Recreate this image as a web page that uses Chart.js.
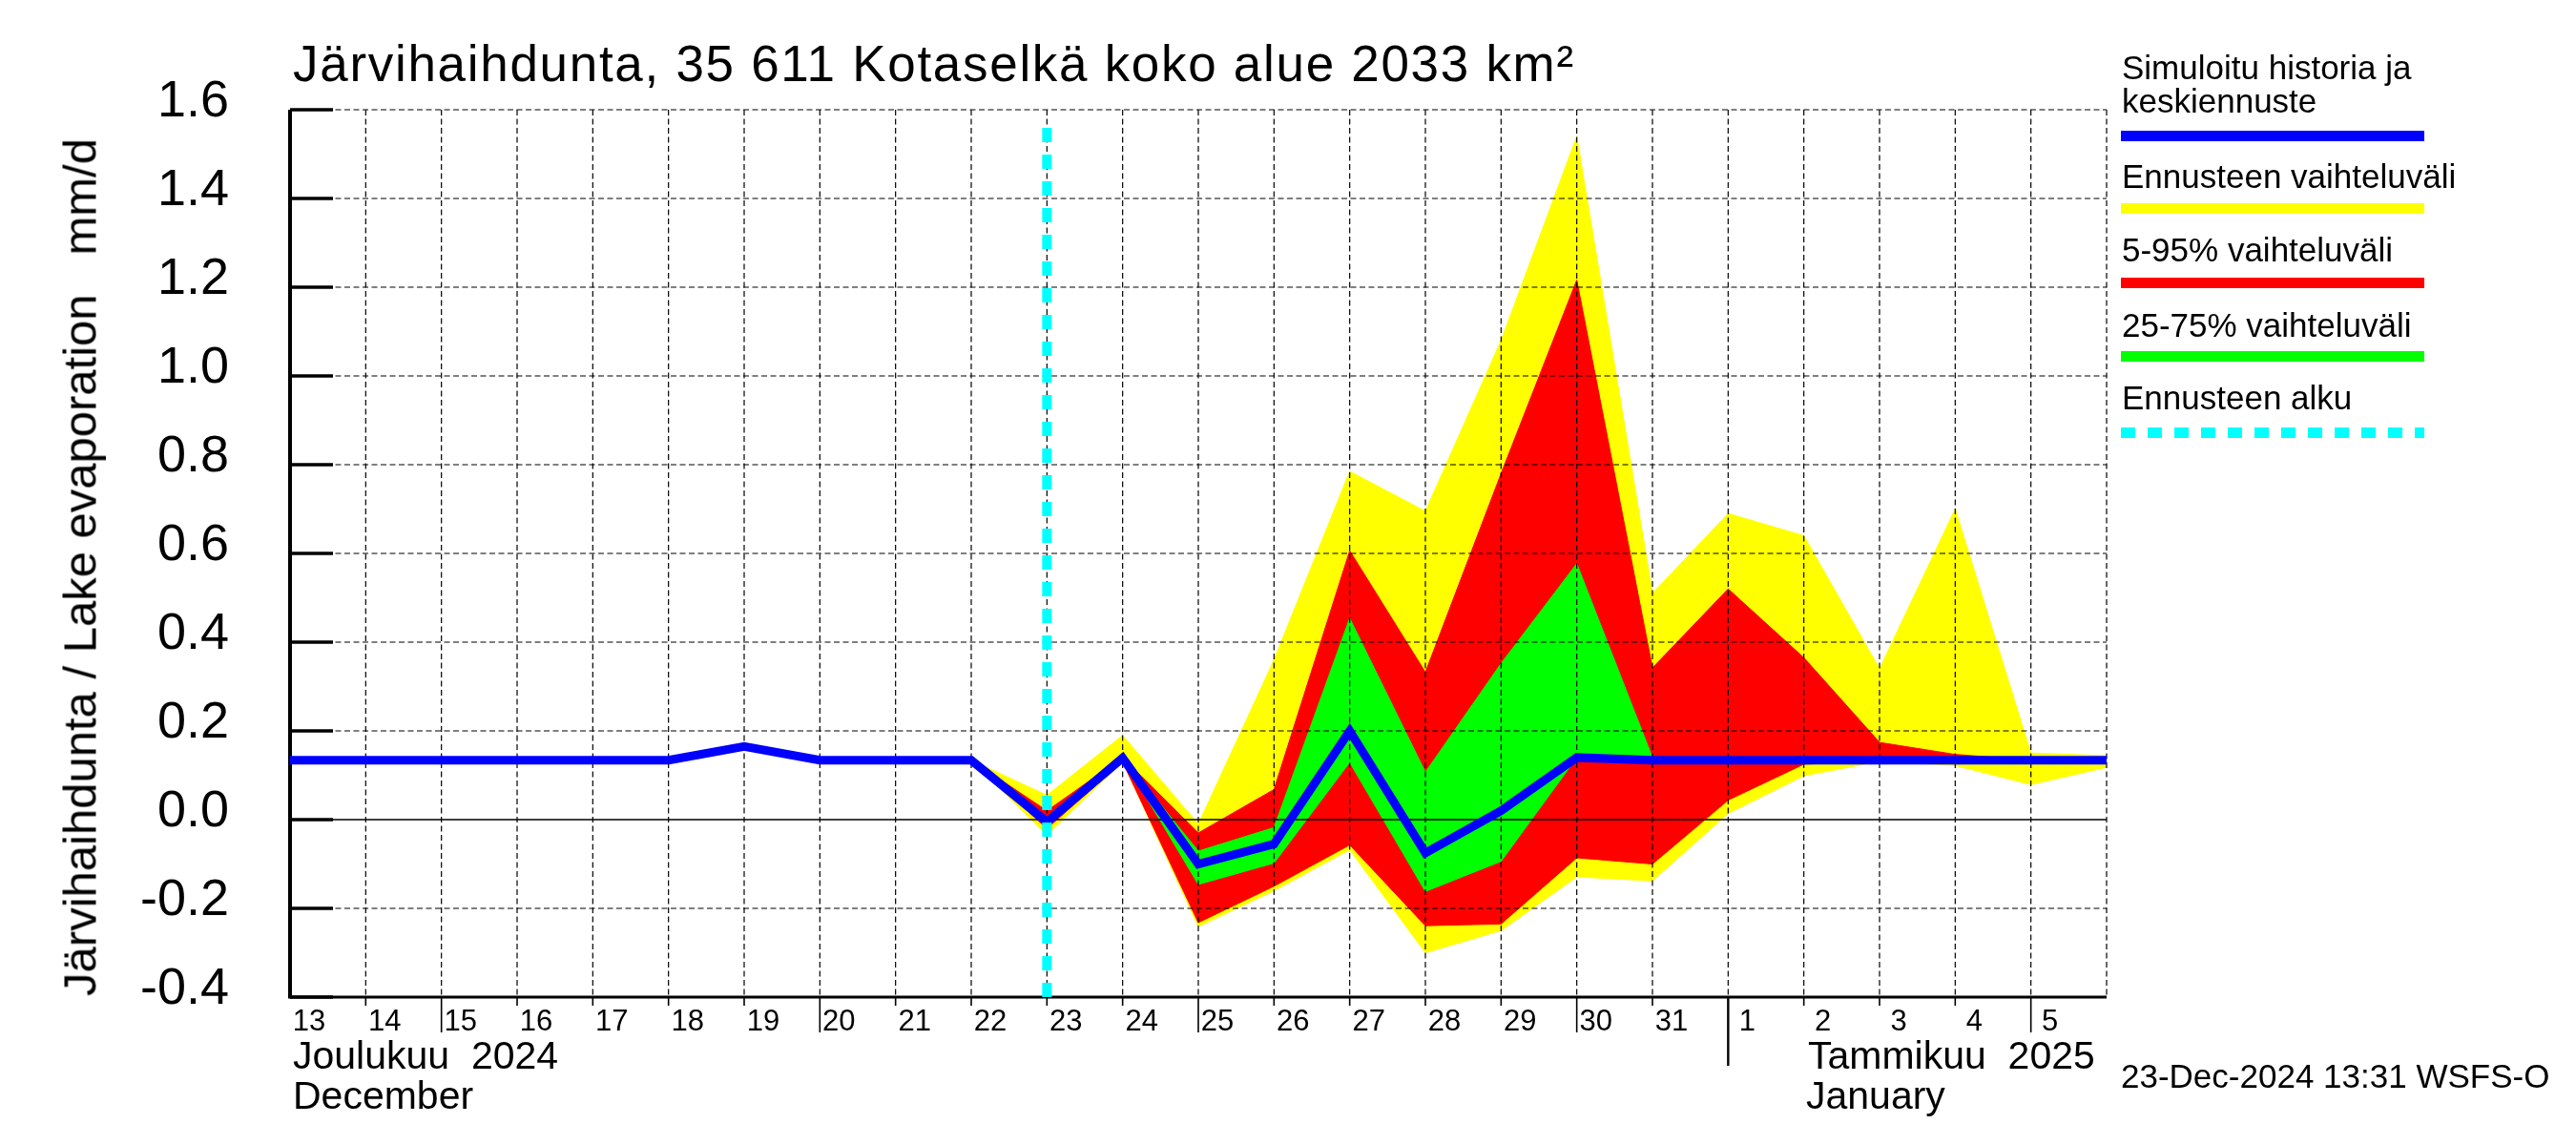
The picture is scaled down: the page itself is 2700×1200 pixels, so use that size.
<!DOCTYPE html>
<html><head><meta charset="utf-8">
<script src="https://cdn.jsdelivr.net/npm/chart.js@4.4.1/dist/chart.umd.min.js"></script>
<style>
html,body{margin:0;padding:0;background:#fff;}
#wrap{position:relative;width:2700px;height:1200px;overflow:hidden;font-family:"Liberation Sans",Arial,sans-serif;color:#000;background:#fff;}
#chartbox{position:absolute;left:0;top:0;width:2700px;height:1200px;}
.t{position:absolute;white-space:pre;line-height:1;}
.bar{position:absolute;left:2223px;width:318px;height:11px;}
</style></head><body>
<div id="wrap">
<div id="chartbox"><canvas id="c"></canvas></div>
<div class="t" style="left:307px;top:40px;font-size:53px;letter-spacing:1.7px">Järvihaihdunta, 35 611 Kotaselkä koko alue 2033 km²</div>
<div class="t" style="left:-416px;top:570px;width:1000px;text-align:center;font-size:49px;transform:rotate(-90deg);">Järvihaihdunta / Lake evaporation   mm/d</div>
<div class="t" style="left:2224px;top:53px;font-size:35px">Simuloitu historia ja</div>
<div class="t" style="left:2224px;top:88px;font-size:35px">keskiennuste</div>
<div class="bar" style="top:137px;background:#0000ff"></div>
<div class="t" style="left:2224px;top:167px;font-size:35px">Ennusteen vaihteluväli</div>
<div class="bar" style="top:213px;background:#ffff00"></div>
<div class="t" style="left:2224px;top:244px;font-size:35px">5-95% vaihteluväli</div>
<div class="bar" style="top:291px;background:#ff0000"></div>
<div class="t" style="left:2224px;top:323px;font-size:35px">25-75% vaihteluväli</div>
<div class="bar" style="top:368px;background:#00ff00"></div>
<div class="t" style="left:2224px;top:399px;font-size:35px">Ennusteen alku</div>
<div class="bar" style="top:448px;background:repeating-linear-gradient(90deg,#00ffff 0 15px,transparent 15px 28px)"></div>
<div class="t" style="left:307px;top:1086px;font-size:41px">Joulukuu  2024</div>
<div class="t" style="left:307px;top:1128px;font-size:41px">December</div>
<div class="t" style="left:1895px;top:1086px;font-size:41px">Tammikuu  2025</div>
<div class="t" style="left:1893px;top:1128px;font-size:41px">January</div>
<div class="t" style="left:2223px;top:1110px;font-size:35px">23-Dec-2024 13:31 WSFS-O</div>
</div>
<script>
// ---- data (x = days since 13 Dec 2024 00:00) ----
const dayLabels = ['13','14','15','16','17','18','19','20','21','22','23','24','25','26','27','28','29','30','31','1','2','3','4','5'];
const simulated = [0.134,0.134,0.134,0.134,0.134,0.134,0.165,0.134,0.134,0.134,-0.005,0.139,-0.100,-0.055,0.200,-0.075,0.020,0.140,0.134,0.134,0.134,0.134,0.134,0.134,0.134];
const bandStart = 9;
const yellowMax = [0.134,0.055,0.190,-0.010,0.360,0.785,0.695,1.080,1.540,0.510,0.690,0.640,0.340,0.700,0.150,0.144];
const yellowMin = [0.134,-0.035,0.130,-0.241,-0.160,-0.068,-0.300,-0.250,-0.129,-0.138,0.014,0.099,0.131,0.122,0.079,0.118];
const redMax    = [0.134,0.020,0.140,-0.030,0.068,0.606,0.332,0.780,1.216,0.342,0.520,0.365,0.174,0.147,0.134,0.134];
const redMin    = [0.134,-0.020,0.130,-0.232,-0.150,-0.057,-0.239,-0.235,-0.086,-0.100,0.044,0.125,0.130,0.130,0.130,0.130];
const greenMax  = [0.134,0.000,0.140,-0.071,-0.018,0.454,0.107,0.352,0.577,0.140,0.134,0.134,0.134,0.134,0.134,0.134];
const greenMin  = [0.134,-0.015,0.139,-0.146,-0.098,0.129,-0.162,-0.094,0.140,0.130,0.134,0.134,0.134,0.134,0.134,0.134];
const forecastStart = 10;
const forecastLineTop = 1.57;
const yMin = -0.4, yMax = 1.6, yStep = 0.2;
const xMin = 0, xMax = 24;

const pts = (arr, start) => arr.map((v, i) => ({x: i + start, y: v}));

const frame = {
  id: 'frame',
  beforeDatasetDraw(chart, args) {
    if (args.index !== 1) return;
    const {ctx, chartArea: a, scales: {x, y}} = chart;
    const seg = (x1, y1, x2, y2) => { ctx.beginPath(); ctx.moveTo(x1, y1); ctx.lineTo(x2, y2); ctx.stroke(); };
    ctx.save();
    ctx.strokeStyle = '#000';
    ctx.lineWidth = 1.2;
    ctx.setLineDash([6, 3.5]);
    x.ticks.forEach(t => { if (t.value <= x.min) return; const px = x.getPixelForValue(t.value); seg(px, a.top, px, a.bottom); });
    y.ticks.forEach(t => { if (Math.abs(t.value) < 1e-9 || t.value <= y.min + 1e-9) return; const py = y.getPixelForValue(t.value); seg(a.left, py, a.right, py); });
    ctx.setLineDash([]);
    ctx.lineWidth = 1.6;
    const z = y.getPixelForValue(0); seg(a.left, z, a.right, z);
    ctx.lineWidth = 4;
    seg(a.left, a.top, a.left, a.bottom + 1.5);
    ctx.lineWidth = 3.5;
    y.ticks.forEach(t => { const py = y.getPixelForValue(t.value); seg(a.left, py, a.left + 45, py); });
    ctx.lineWidth = 3;
    seg(a.left, a.bottom, a.right, a.bottom);
    x.ticks.forEach(t => {
      const v = Math.round(t.value); if (v <= x.min || v >= x.max) return;
      const px = x.getPixelForValue(v); const d = parseInt(dayLabels[v], 10);
      let len = 9; ctx.lineWidth = 1.6;
      if (d % 5 === 0) len = 37;
      if (d === 1) { len = 72; ctx.lineWidth = 2.4; }
      seg(px, a.bottom, px, a.bottom + len);
    });
    ctx.restore();
  },
  afterDraw(chart) {
    const {ctx, chartArea: a, scales: {x}} = chart;
    ctx.save();
    ctx.fillStyle = '#000';
    ctx.font = '31px "Liberation Sans", Arial, sans-serif';
    ctx.textAlign = 'center';
    ctx.textBaseline = 'alphabetic';
    x.ticks.forEach(t => {
      const v = Math.round(t.value); const lab = dayLabels[v]; if (lab === undefined) return;
      ctx.fillText(lab, x.getPixelForValue(v) + 20, a.bottom + 35);
    });
    ctx.restore();
  }
};

const band = (data, color, fill) => ({data: pts(data, bandStart), borderColor: color, backgroundColor: color, borderWidth: 1, pointRadius: 0, fill: fill, tension: 0});

new Chart(document.getElementById('c'), {
  type: 'line',
  data: {
    datasets: [
      {label: 'Ennusteen alku', data: [{x: forecastStart, y: yMin}, {x: forecastStart, y: forecastLineTop}], borderColor: '#00ffff', borderWidth: 10, borderDash: [15, 13], borderCapStyle: 'butt', pointRadius: 0, fill: false},
      {label: 'Simuloitu historia ja keskiennuste', data: pts(simulated, 0), borderColor: '#0000ff', borderWidth: 9, pointRadius: 0, fill: false, tension: 0, borderJoinStyle: 'miter'},
      band(greenMax, '#00ff00', '+1'),
      band(greenMin, '#00ff00', false),
      band(redMax, '#ff0000', '+1'),
      band(redMin, '#ff0000', false),
      band(yellowMax, '#ffff00', '+1'),
      band(yellowMin, '#ffff00', false)
    ]
  },
  options: {
    responsive: true, maintainAspectRatio: false, animation: false, devicePixelRatio: 1,
    layout: {padding: {left: 0, top: 115, right: 492, bottom: 0}},
    plugins: {legend: {display: false}, tooltip: {enabled: false}},
    scales: {
      x: {
        type: 'linear', min: xMin, max: xMax,
        grid: {display: false, drawTicks: false}, border: {display: false},
        ticks: {stepSize: 1, autoSkip: false, maxRotation: 0, maxTicksLimit: 100, display: false,
          callback: v => dayLabels[Math.round(v)] ?? ''},
        afterFit: s => { s.height = 155; }
      },
      y: {
        type: 'linear', min: yMin, max: yMax,
        grid: {display: false, drawTicks: false}, border: {display: false},
        ticks: {stepSize: yStep, padding: 64, labelOffset: -8, color: '#000', font: {family: 'Liberation Sans', size: 54},
          callback: v => (Math.abs(v) < 1e-9 ? 0 : v).toFixed(1)},
        afterFit: s => { s.width = 304; }
      }
    }
  },
  plugins: [frame]
});
</script>
</body></html>
